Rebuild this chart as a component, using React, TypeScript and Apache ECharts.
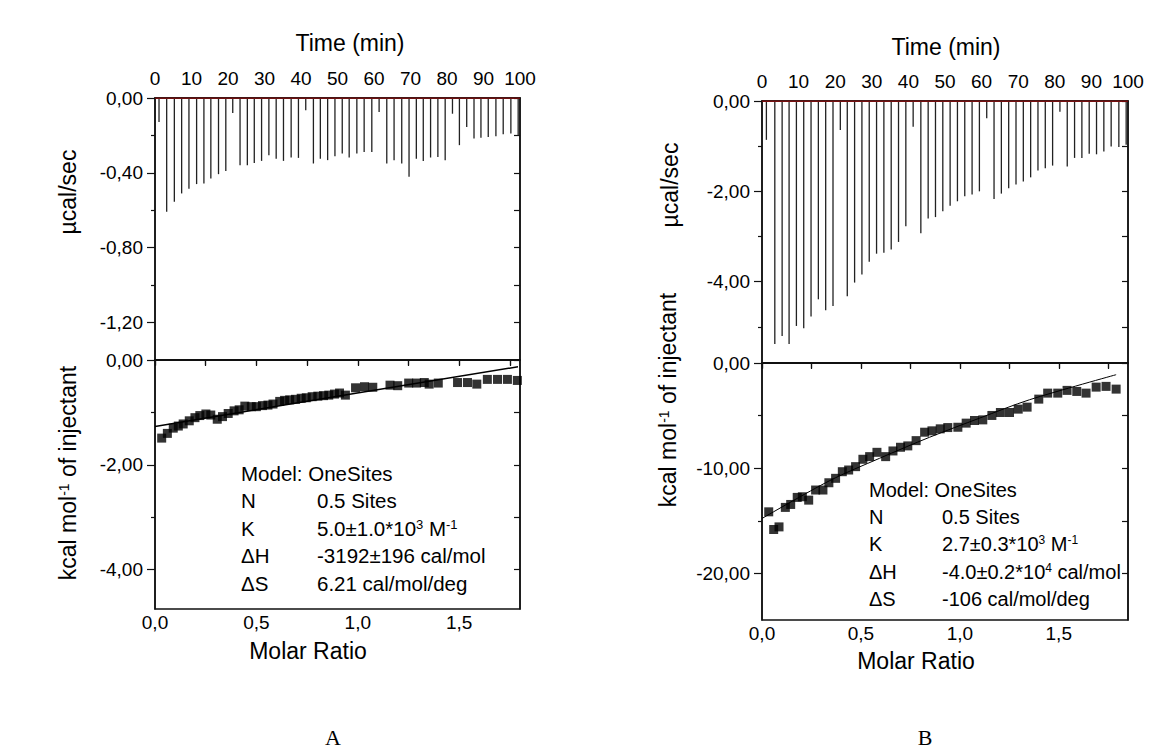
import React, { useEffect, useRef } from 'react';
import * as echarts from 'echarts';

// ---------- DATA ----------
const timeTicks = [0, 10, 20, 30, 40, 50, 60, 70, 80, 90, 100];

const timesA = [1.1, 3.2, 5.3, 7.3, 9.3, 11.4, 13.4, 15.3, 17.4, 19.4,
  21.3, 23.3, 25.3, 27.2, 29.2, 31.2, 33.2, 35.2, 37.3, 39.3,
  41.3, 43.4, 45.3, 47.3, 49.3, 51.3, 53.2, 55.3, 57.3, 59.4,
  61.4, 63.5, 65.5, 67.6, 69.6, 71.6, 73.5, 75.5, 77.5, 79.5,
  81.5, 83.4, 85.4, 87.4, 89.3, 91.3, 93.4, 95.4, 97.5, 99.5];
const depthsA = [-0.128, -0.608, -0.555, -0.51, -0.485, -0.46, -0.457, -0.43, -0.407, -0.39,
  -0.08, -0.36, -0.36, -0.347, -0.336, -0.306, -0.324, -0.336, -0.318, -0.32,
  -0.066, -0.35, -0.324, -0.332, -0.311, -0.297, -0.318, -0.297, -0.288, -0.288,
  -0.075, -0.35, -0.332, -0.35, -0.421, -0.324, -0.336, -0.318, -0.315, -0.332,
  -0.084, -0.252, -0.155, -0.217, -0.212, -0.208, -0.204, -0.194, -0.19, -0.2];

const timesB = [1.2, 3.5, 5.5, 7.4, 9.4, 11.4, 13.4, 15.4, 17.4, 19.4,
  21.4, 23.3, 25.3, 27.3, 29.3, 31.3, 33.3, 35.3, 37.3, 39.3,
  41.3, 43.4, 45.4, 47.4, 49.4, 51.4, 53.4, 55.4, 57.4, 59.4,
  61.4, 63.4, 65.4, 67.4, 69.4, 71.4, 73.4, 75.4, 77.4, 79.4,
  81.4, 83.4, 85.4, 87.4, 89.4, 91.4, 93.4, 95.4, 97.5, 99.5];
const depthsB = [-0.86, -5.38, -5.2, -5.38, -4.98, -5.03, -4.77, -4.39, -4.63, -4.54,
  -0.64, -4.32, -4.02, -3.84, -3.56, -3.38, -3.36, -3.29, -3.12, -2.77,
  -0.57, -2.93, -2.6, -2.57, -2.44, -2.32, -2.22, -2.11, -2.07, -2.0,
  -0.38, -2.17, -2.05, -1.93, -1.85, -1.78, -1.69, -1.54, -1.49, -1.43,
  -0.24, -1.45, -1.26, -1.26, -1.17, -1.18, -1.12, -1.01, -1.02, -0.97];

const ratioA = [0.033, 0.061, 0.09, 0.115, 0.139, 0.169, 0.197, 0.221, 0.251, 0.275,
  0.307, 0.333, 0.361, 0.39, 0.415, 0.443, 0.475, 0.5, 0.53, 0.557,
  0.582, 0.615, 0.639, 0.664, 0.693, 0.721, 0.746, 0.775, 0.803, 0.831,
  0.857, 0.885, 0.91, 0.939, 0.989, 1.033, 1.074, 1.159, 1.197, 1.251,
  1.29, 1.328, 1.352, 1.397, 1.492, 1.541, 1.587, 1.639, 1.689, 1.738, 1.787];
const heatA = [-1.49, -1.40, -1.30, -1.26, -1.22, -1.16, -1.10, -1.06, -1.03, -1.05,
  -1.13, -1.08, -1.02, -0.97, -0.95, -0.88, -0.89, -0.89, -0.87, -0.86,
  -0.84, -0.79, -0.77, -0.76, -0.75, -0.73, -0.72, -0.70, -0.69, -0.68,
  -0.67, -0.65, -0.63, -0.67, -0.53, -0.51, -0.52, -0.48, -0.49, -0.44,
  -0.44, -0.43, -0.46, -0.44, -0.43, -0.43, -0.46, -0.37, -0.37, -0.37, -0.39];
const fitRatioA = [0, 0.9, 1.79];
const fitHeatA = [-1.27, -0.69, -0.13];

const ratioB = [0.034, 0.059, 0.086, 0.118, 0.145, 0.178, 0.204, 0.236, 0.271, 0.308,
  0.338, 0.372, 0.406, 0.438, 0.473, 0.51, 0.544, 0.581, 0.625, 0.662,
  0.7, 0.737, 0.779, 0.822, 0.859, 0.901, 0.939, 0.99, 1.032, 1.074,
  1.116, 1.162, 1.205, 1.251, 1.295, 1.34, 1.399, 1.444, 1.495, 1.542,
  1.591, 1.638, 1.689, 1.739, 1.79];
const heatB = [-14.13, -15.81, -15.56, -13.71, -13.43, -12.76, -12.7, -13.02, -12.06, -12.06,
  -11.37, -10.95, -10.32, -10.16, -9.84, -9.14, -8.89, -8.48, -8.89, -8.35,
  -8.0, -7.87, -7.37, -6.57, -6.44, -6.25, -6.13, -6.1, -5.71, -5.46,
  -5.4, -4.98, -4.7, -4.7, -4.38, -4.19, -3.43, -2.86, -2.86, -2.6,
  -2.7, -2.86, -2.29, -2.22, -2.48];
const fitRatioB = [0, 0.342, 0.594, 0.847, 1.099, 1.352, 1.79];
const fitHeatB = [-14.76, -11.17, -9.05, -7.05, -5.24, -3.49, -1.11];

const topTicksA = [0, -0.4, -0.8, -1.2];
const topMinorA = [-0.2, -0.6, -1.0];
const botTicksA = [0, -2, -4];
const botMinorA = [-1, -3];
const topTicksB = [0, -2, -4];
const topMinorB = [-1, -3, -5];
const botTicksB = [0, -10, -20];
const botMinorB = [-5, -15];
const ratioLabels = [0, 0.5, 1.0, 1.5];
const ratioTicks = [0, 0.25, 0.5, 0.75, 1.0, 1.25, 1.5, 1.75];

const annotKeys = ['N', 'K', '\u0394H', '\u0394S'];
const annotValsA = ['0.5 Sites', '5.0\u00b11.0*10{sup|3} M{sup|-1}', '-3192\u00b1196 cal/mol', '6.21 cal/mol/deg'];
const annotValsB = ['0.5 Sites', '2.7\u00b10.3*10{sup|3} M{sup|-1}', '-4.0\u00b10.2*10{sup|4} cal/mol', '-106 cal/mol/deg'];

// ---------- STYLE HELPERS ----------
const FONT = '"Liberation Sans", Arial, sans-serif';
const INK = '#111';
const fmt = (d: number) => (v: number) => (Math.abs(v) < 1e-9 ? 0 : v).toFixed(d).replace('.', ',');

function yAxesFor(grid: number, min: number, major: number[], minor: number[]) {
  const base = { type: 'value', gridIndex: grid, min, max: 0, splitLine: { show: false } };
  return [
    {
      ...base, position: 'left',
      axisLine: { show: true, lineStyle: { color: INK, width: 1.5 } },
      axisTick: { show: true, customValues: major, length: 8, lineStyle: { color: INK, width: 1.2 } },
      axisLabel: { customValues: major, formatter: fmt(2), fontSize: 19, color: '#000', fontFamily: FONT, margin: 12 },
    },
    {
      ...base, position: 'left',
      axisLine: { show: false },
      axisTick: { show: true, customValues: minor, length: 4, lineStyle: { color: INK, width: 1.2 } },
      axisLabel: { show: false },
    },
    {
      ...base, position: 'right',
      axisLine: { show: true, lineStyle: { color: INK, width: 1.5 } },
      axisTick: { show: true, inside: true, customValues: [...major, ...minor], length: 6, lineStyle: { color: INK, width: 1.2 } },
      axisLabel: { show: false },
    },
  ];
}

function timeAxis(grid: number) {
  return {
    type: 'value', gridIndex: grid, position: 'top', min: 0, max: 100, interval: 10,
    axisLine: { show: true, lineStyle: { color: INK, width: 1.5 } },
    axisTick: { show: false },
    axisLabel: { customValues: timeTicks, fontSize: 19, color: '#000', fontFamily: FONT, margin: 10 },
    splitLine: { show: false },
  };
}

function ratioAxes(grid: number, max: number) {
  const base = { type: 'value', gridIndex: grid, min: 0, max, splitLine: { show: false } };
  return [
    {
      ...base, position: 'bottom',
      axisLine: { show: true, lineStyle: { color: INK, width: 1.5 } },
      axisTick: { show: true, customValues: ratioTicks, length: 5, lineStyle: { color: INK, width: 1.2 } },
      axisLabel: { customValues: ratioLabels, formatter: fmt(1), fontSize: 19, color: '#000', fontFamily: FONT, margin: 4 },
    },
    {
      ...base, position: 'top',
      axisLine: { show: true, lineStyle: { color: INK, width: 1.5 } },
      axisTick: { show: true, inside: true, customValues: ratioTicks, length: 6, lineStyle: { color: INK, width: 1.2 } },
      axisLabel: { show: false },
    },
  ];
}

function annot(x0: number, x1: number, y0: number, dy: number, fs: number, vals: string[]) {
  const rich = { sup: { fontSize: Math.round(fs * 0.62), lineHeight: Math.round(fs * 0.62), verticalAlign: 'top', fontFamily: FONT, fill: '#000' } };
  const els: any[] = [{
    type: 'text', x: x0, y: y0,
    style: { text: 'Model: OneSites', fontSize: fs, fontFamily: FONT, fill: '#000', align: 'left', verticalAlign: 'middle' },
  }];
  annotKeys.forEach((k, i) => {
    els.push({ type: 'text', x: x0, y: y0 + dy * (i + 1), style: { text: k, fontSize: fs, fontFamily: FONT, fill: '#000', align: 'left', verticalAlign: 'middle' } });
    els.push({ type: 'text', x: x1, y: y0 + dy * (i + 1), style: { text: vals[i], fontSize: fs, fontFamily: FONT, fill: '#000', align: 'left', verticalAlign: 'middle', rich } });
  });
  return els;
}

function title(x: number, y: number, text: string, rotate = false, fs = 23) {
  return {
    type: 'text', x, y, rotation: rotate ? Math.PI / 2 : 0,
    style: {
      text, fontSize: fs, fontFamily: FONT, fill: '#000', align: 'center', verticalAlign: 'middle',
      rich: { sup: { fontSize: 14, lineHeight: 14, verticalAlign: 'top', fontFamily: FONT, fill: '#000' } },
    },
  };
}

export default function App() {
  const ref = useRef<HTMLDivElement>(null);
  useEffect(() => {
    if (!ref.current) return;
    const chart = echarts.init(ref.current, undefined, { renderer: 'svg' });
    const gridStyle = { show: true, borderColor: INK, borderWidth: 1.5, backgroundColor: 'transparent' };
    const option: any = {
      animation: false,
      backgroundColor: '#fff',
      grid: [
        { ...gridStyle, left: 155, top: 98, width: 365, height: 262 },
        { ...gridStyle, left: 155, top: 360, width: 365, height: 249 },
        { ...gridStyle, left: 762, top: 101, width: 366, height: 262 },
        { ...gridStyle, left: 762, top: 363, width: 366, height: 257 },
      ],
      xAxis: [
        timeAxis(0),
        ...ratioAxes(1, 1.8),
        timeAxis(2),
        ...ratioAxes(3, 1.85),
      ],
      yAxis: [
        ...yAxesFor(0, -1.4, topTicksA, topMinorA),
        ...yAxesFor(1, -4.75, botTicksA, botMinorA),
        ...yAxesFor(2, -5.8, topTicksB, topMinorB),
        ...yAxesFor(3, -24.4, botTicksB, botMinorB),
      ],
      series: [
        {
          type: 'bar', xAxisIndex: 0, yAxisIndex: 0, barWidth: 1.3,
          data: timesA.map((t, i) => [t, depthsA[i]]), itemStyle: { color: '#222' },
        },
        {
          type: 'line', xAxisIndex: 0, yAxisIndex: 0, symbol: 'none',
          data: [[0, 0], [100, 0]], lineStyle: { color: '#c00000', width: 1 },
        },
        {
          type: 'scatter', xAxisIndex: 1, yAxisIndex: 3, symbol: 'rect', symbolSize: 9,
          data: ratioA.map((x, i) => [x, heatA[i]]), itemStyle: { color: '#000' },
        },
        {
          type: 'line', xAxisIndex: 1, yAxisIndex: 3, symbol: 'none',
          data: fitRatioA.map((x, i) => [x, fitHeatA[i]]), lineStyle: { color: '#000', width: 1.5 },
        },
        {
          type: 'bar', xAxisIndex: 3, yAxisIndex: 6, barWidth: 1.3,
          data: timesB.map((t, i) => [t, depthsB[i]]), itemStyle: { color: '#222' },
        },
        {
          type: 'line', xAxisIndex: 3, yAxisIndex: 6, symbol: 'none',
          data: [[0, 0], [100, 0]], lineStyle: { color: '#d00000', width: 1 },
        },
        {
          type: 'scatter', xAxisIndex: 4, yAxisIndex: 9, symbol: 'rect', symbolSize: 9,
          data: ratioB.map((x, i) => [x, heatB[i]]), itemStyle: { color: '#000' },
        },
        {
          type: 'line', xAxisIndex: 4, yAxisIndex: 9, symbol: 'none', smooth: 0.3,
          data: fitRatioB.map((x, i) => [x, fitHeatB[i]]), lineStyle: { color: '#000', width: 1 },
        },
      ],
      graphic: [
        title(350, 43, 'Time (min)'),
        title(946, 47, 'Time (min)'),
        title(68, 192, '\u00b5cal/sec', true),
        title(68, 473, 'kcal mol{sup|-1} of injectant', true),
        title(670, 185, '\u00b5cal/sec', true),
        title(668, 400, 'kcal mol{sup|-1} of injectant', true),
        title(308, 651, 'Molar Ratio'),
        title(916, 661, 'Molar Ratio'),
        {
          type: 'text', x: 333, y: 737,
          style: { text: 'A', fontSize: 22, fontFamily: '"Liberation Serif", "Times New Roman", serif', fill: '#000', align: 'center', verticalAlign: 'middle' },
        },
        {
          type: 'text', x: 925, y: 737,
          style: { text: 'B', fontSize: 22, fontFamily: '"Liberation Serif", "Times New Roman", serif', fill: '#000', align: 'center', verticalAlign: 'middle' },
        },
        ...annot(241, 317, 473, 27.5, 20.5, annotValsA),
        ...annot(869, 942, 490, 27.2, 20, annotValsB),
      ],
    };
    chart.setOption(option);
    return () => chart.dispose();
  }, []);
  return (
    <div
      ref={ref}
      style={{ position: 'fixed', left: 0, top: 0, width: 1171, height: 753, background: '#fff' }}
    />
  );
}
